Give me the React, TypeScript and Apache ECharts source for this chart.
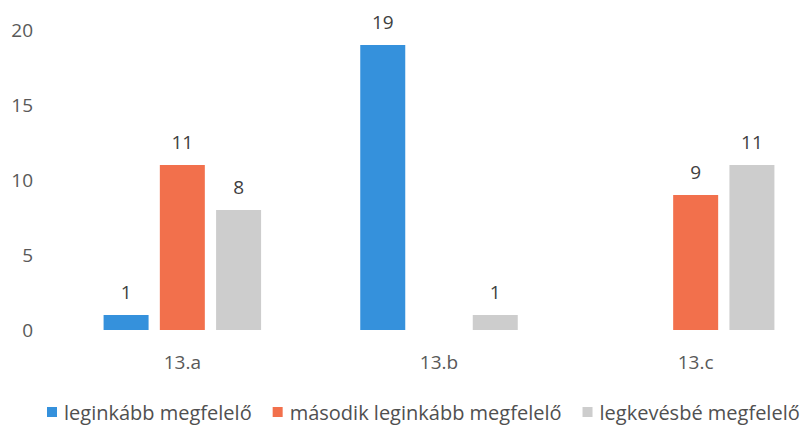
import React, { useEffect, useRef } from "react";
import * as echarts from "echarts";

const categories = ["13.a", "13.b", "13.c"];
const seriesNames = ["leginkább megfelelő", "második leginkább megfelelő", "legkevésbé megfelelő"];
const blueValues = [1, 19, null];
const orangeValues = [11, null, 9];
const grayValues = [8, 1, 11];
const colors = ["#3591DC", "#F2704C", "#CDCDCD"];

export default function App() {
  const ref = useRef<HTMLDivElement>(null);
  useEffect(() => {
    if (!ref.current) return;
    const chart = echarts.init(ref.current, undefined, { renderer: "svg" });
    const font = "'Open Sans', sans-serif";
    const mk = (name: string, data: (number | null)[], color: string) => ({
      name,
      type: "bar",
      data,
      barWidth: 45,
      barGap: "25%",
      itemStyle: { color },
      label: {
        show: true,
        position: "top",
        distance: 14,
        color: "#404040",
        fontSize: 19,
        fontFamily: font,
      },
    });
    chart.setOption({
      animation: false,
      backgroundColor: "#ffffff",
      textStyle: { fontFamily: font },
      grid: { left: 54, top: 30, width: 770, height: 300, outerBoundsMode: "none", containLabel: false },
      legend: {
        top: 402,
        left: 47,
        padding: 0,
        itemWidth: 10,
        itemHeight: 10,
        itemGap: 21,
        icon: "rect",
        textStyle: { fontSize: 20, color: "#505050", fontFamily: font, padding: [0, 0, 0, 2] },
        data: seriesNames,
      },
      xAxis: {
        type: "category",
        data: categories,
        axisLine: { show: false },
        axisTick: { show: false },
        axisLabel: { fontSize: 19, color: "#595959", margin: 22, fontFamily: font },
      },
      yAxis: {
        type: "value",
        min: 0,
        max: 20,
        interval: 5,
        splitLine: { show: false },
        axisLine: { show: false },
        axisTick: { show: false },
        axisLabel: { fontSize: 19, color: "#595959", margin: 21, fontFamily: font },
      },
      series: [
        mk(seriesNames[0], blueValues, colors[0]),
        mk(seriesNames[1], orangeValues, colors[1]),
        mk(seriesNames[2], grayValues, colors[2]),
      ],
    });
    return () => chart.dispose();
  }, []);
  return <div ref={ref} style={{ width: 808, height: 428, position: "absolute", left: 0, top: 0 }} />;
}
